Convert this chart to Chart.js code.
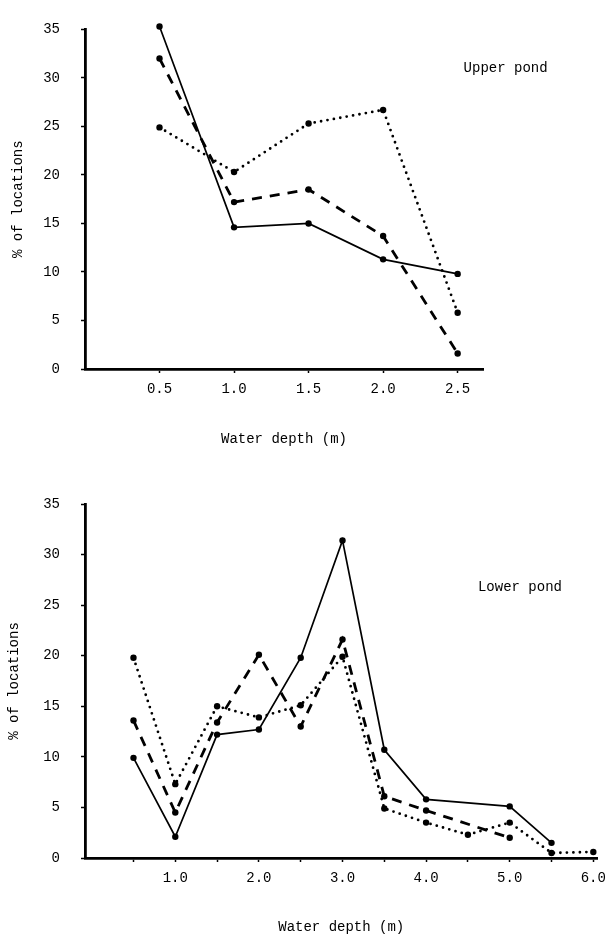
<!DOCTYPE html>
<html>
<head>
<meta charset="utf-8">
<script src="https://cdn.jsdelivr.net/npm/chart.js@4.4.1/dist/chart.umd.min.js"></script>
<style>
  html, body { margin: 0; padding: 0; background: #ffffff; }
  body { width: 614px; height: 936px; position: relative; overflow: hidden; }
  .panel { position: absolute; left: 0; width: 614px; }
  #upperWrap { top: 0; height: 460px; }
  #lowerWrap { top: 470px; height: 466px; }
</style>
</head>
<body>
<div id="upperWrap" class="panel"><canvas id="upper"></canvas></div>
<div id="lowerWrap" class="panel"><canvas id="lower"></canvas></div>
<script>
// ---------- DATA ----------
const yTickValues = [0, 5, 10, 15, 20, 25, 30, 35];

const upperDepths = [0.5, 1.0, 1.5, 2.0, 2.5];
const upperSolid  = [35.3, 14.6, 15.0, 11.3, 9.8];
const upperDashed = [32.0, 17.2, 18.5, 13.7, 1.6];
const upperDotted = [24.9, 20.3, 25.3, 26.7, 5.8];
const upperXTicks = [0.5, 1.0, 1.5, 2.0, 2.5];

const lowerDepths = [0.5, 1.0, 1.5, 2.0, 2.5, 3.0, 3.5, 4.0, 4.5, 5.0, 5.5, 6.0];
const lowerSolid  = [9.9, 2.1, 12.2, 12.7, 19.8, 31.4, 10.7, 5.8, null, 5.1, 1.5, null];
const lowerDashed = [13.6, 4.5, 13.4, 20.1, 13.0, 21.6, 6.1, 4.7, null, 2.0, null, null];
const lowerDotted = [19.8, 7.3, 15.0, 13.9, 15.1, 19.9, 4.9, 3.5, 2.3, 3.5, 0.5, 0.6];
const lowerXTicks = [0.5, 1.0, 1.5, 2.0, 2.5, 3.0, 3.5, 4.0, 4.5, 5.0, 5.5, 6.0];
const lowerXLabelled = [1.0, 2.0, 3.0, 4.0, 5.0, 6.0];

const upperTitle = "Upper pond";
const lowerTitle = "Lower pond";
const xAxisTitle = "Water depth (m)";
const yAxisTitle = "% of locations";

// ---------- STYLE ----------
const FONT = "'Liberation Mono', 'DejaVu Sans Mono', monospace";
const INK = "#000000";

function pts(xs, ys) {
  return xs.map((x, i) => ys[i] === null ? null : { x: x, y: ys[i] }).filter(p => p !== null);
}

function ds(data, kind) {
  const base = {
    data: data,
    borderColor: INK,
    backgroundColor: INK,
    pointRadius: 3.2,
    pointBackgroundColor: INK,
    pointBorderWidth: 0,
    tension: 0,
    clip: false,
    fill: false
  };
  if (kind === 'solid') { base.borderWidth = 1.7; }
  if (kind === 'dashed') { base.borderWidth = 2.8; base.borderDash = [10, 8]; }
  if (kind === 'dotted') { base.borderWidth = 2.8; base.borderDash = [0, 6.5]; base.borderCapStyle = 'round'; }
  return base;
}

// plugin: place a panel label anchored in data coordinates
const panelLabel = {
  id: 'panelLabel',
  afterDraw(chart, args, opts) {
    const ctx = chart.ctx;
    const xs = chart.scales.x, ys = chart.scales.y;
    ctx.save();
    ctx.font = "14px " + FONT;
    ctx.fillStyle = INK;
    ctx.textAlign = 'left';
    ctx.textBaseline = 'middle';
    ctx.fillText(opts.text, xs.getPixelForValue(opts.x), ys.getPixelForValue(opts.y));
    ctx.restore();
  }
};

function makeChart(id, cfg) {
  return new Chart(document.getElementById(id), {
    type: 'line',
    data: {
      datasets: [
        ds(pts(cfg.depths, cfg.solid), 'solid'),
        ds(pts(cfg.depths, cfg.dashed), 'dashed'),
        ds(pts(cfg.depths, cfg.dotted), 'dotted')
      ]
    },
    options: {
      responsive: true,
      maintainAspectRatio: false,
      animation: false,
      events: [],
      layout: { padding: cfg.padding },
      plugins: {
        legend: { display: false },
        tooltip: { enabled: false },
        panelLabel: cfg.label
      },
      scales: {
        x: {
          type: 'linear',
          min: cfg.xmin,
          max: cfg.xmax,
          afterBuildTicks: s => { s.ticks = cfg.xticks.map(v => ({ value: v })); },
          afterFit: s => { s.height = cfg.xHeight; },
          border: { display: true, color: INK, width: 2.8 },
          grid: { drawOnChartArea: false, drawTicks: true, tickLength: 4, tickColor: INK, tickWidth: 1.5 },
          ticks: {
            color: INK,
            font: { family: FONT, size: 14 },
            padding: 8,
            maxRotation: 0,
            autoSkip: false,
            callback: v => cfg.xlabelled.includes(v) ? v.toFixed(1) : ''
          },
          title: {
            display: true,
            text: xAxisTitle,
            color: INK,
            font: { family: FONT, size: 14 },
            padding: { top: 0, bottom: cfg.xTitlePad }
          }
        },
        y: {
          type: 'linear',
          min: 0,
          max: 35,
          afterBuildTicks: s => { s.ticks = yTickValues.map(v => ({ value: v })); },
          afterFit: s => { s.width = 85; },
          border: { display: true, color: INK, width: 2.8 },
          grid: { drawOnChartArea: false, drawTicks: true, tickLength: 4, tickColor: INK, tickWidth: 1.5 },
          ticks: {
            color: INK,
            font: { family: FONT, size: 14 },
            padding: 21,
            callback: v => String(v)
          },
          title: {
            display: true,
            text: yAxisTitle,
            color: INK,
            font: { family: FONT, size: 14 },
            padding: { top: cfg.yTitlePad, bottom: 0 }
          }
        }
      }
    },
    plugins: [panelLabel]
  });
}

makeChart('upper', {
  depths: upperDepths, solid: upperSolid, dashed: upperDashed, dotted: upperDotted,
  xmin: 0, xmax: 2.67, xticks: upperXTicks, xlabelled: upperXTicks,
  padding: { top: 20, right: 131, bottom: 0, left: 0 },
  xHeight: 91, xTitlePad: 12, yTitlePad: 9.6,
  label: { text: upperTitle, x: 2.54, y: 31.0 }
});

makeChart('lower', {
  depths: lowerDepths, solid: lowerSolid, dashed: lowerDashed, dotted: lowerDotted,
  xmin: -0.08, xmax: 6.05, xticks: lowerXTicks, xlabelled: lowerXLabelled,
  padding: { top: 34, right: 10, bottom: 0, left: 0 },
  xHeight: 78, xTitlePad: 0, yTitlePad: 5.6,
  label: { text: lowerTitle, x: 4.62, y: 26.8 }
});
</script>
</body>
</html>
